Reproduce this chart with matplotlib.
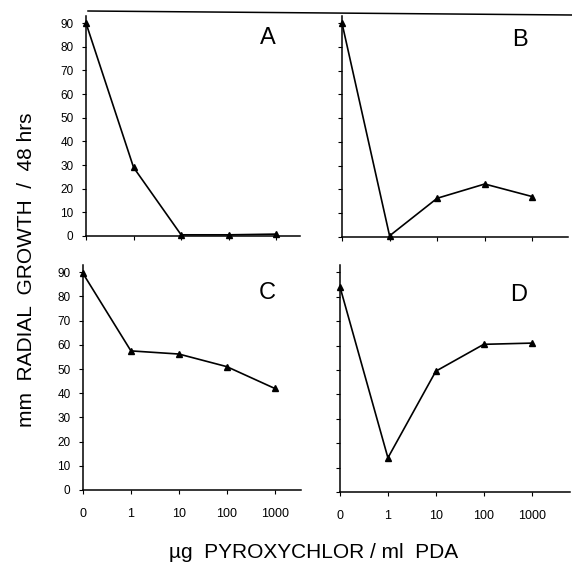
import matplotlib
matplotlib.use('Agg')
import matplotlib.pyplot as plt
from matplotlib.lines import Line2D

plt.rcParams['font.family'] = ['Liberation Sans', 'DejaVu Sans']

# concentrations (ug pyroxychlor / ml PDA), plotted at equal spacing
doses = ['0', '1', '10', '100', '1000']
growth_a = [90, 29, 0.5, 0.5, 0.8]
growth_b = [90, 0.5, 16.3, 22.3, 17.0]
growth_c = [89.5, 57.5, 56.2, 51, 42]
growth_d = [84, 14, 49.5, 60.5, 61]
yticks = [0, 10, 20, 30, 40, 50, 60, 70, 80, 90]

W, H = 572, 571


def px_axes(fig, left, right, bottom, top):
    return fig.add_axes([left / W, 1 - bottom / H, (right - left) / W, (bottom - top) / H])


def panel(ax, values, xmax, show_ylabels, show_xlabels):
    xs = list(range(len(doses)))
    ax.plot(xs, values, color='black', lw=1.2, marker='^', ms=5,
            markerfacecolor='black', clip_on=False, zorder=3)
    ax.set_xlim(0, xmax)
    ax.set_ylim(0, 93)
    for s in ['top', 'right']:
        ax.spines[s].set_visible(False)
    for s in ['left', 'bottom']:
        ax.spines[s].set_linewidth(1.1)
    ax.set_yticks(yticks)
    ax.set_xticks(xs)
    if show_ylabels:
        ax.set_yticklabels([str(t) for t in yticks], fontsize=8.5)
    else:
        ax.set_yticklabels([])
    if show_xlabels:
        ax.set_xticklabels(doses, fontsize=9)
    else:
        ax.set_xticklabels([])
    ax.tick_params(axis='y', length=3, width=0.8, pad=6)
    ax.tick_params(axis='x', length=3, width=0.8, pad=10)


fig = plt.figure(figsize=(W / 100, H / 100), dpi=100)

ax_a = px_axes(fig, 86, 300, 236, 16)
ax_b = px_axes(fig, 342, 568, 237, 16)
ax_c = px_axes(fig, 83, 301, 490, 265)
ax_d = px_axes(fig, 340, 570, 492, 265)

panel(ax_a, growth_a, 4.5, True, False)
panel(ax_b, growth_b, 4.75, False, False)
panel(ax_c, growth_c, 4.55, True, True)
panel(ax_d, growth_d, 4.8, False, True)

# panel letters
for letter, px, py in [('A', 268, 38), ('B', 520, 40), ('C', 267, 293), ('D', 519, 295)]:
    fig.text(px / W, 1 - py / H, letter, fontsize=17, ha='center', va='center')

# top rule across the figure
fig.add_artist(Line2D([88 / W, 1.0], [1 - 11 / H, 1 - 15 / H], color='black', lw=1.1))

fig.text(27 / W, 1 - 270 / H, 'mm  RADIAL  GROWTH  /  48 hrs', rotation=90,
         ha='center', va='center', fontsize=15)
fig.text(314 / W, 1 - 553 / H, '\u00b5g  PYROXYCHLOR / ml  PDA',
         ha='center', va='center', fontsize=15)

fig.savefig('out.png', dpi=100)
